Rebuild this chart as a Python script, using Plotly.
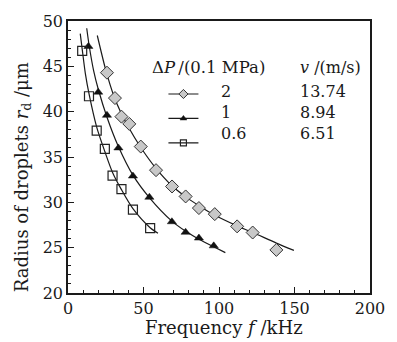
import plotly.graph_objects as go

# ---- data ----
# Delta P = 2 (x0.1 MPa), v = 13.74 m/s  (diamonds)
f_2 = [25.8, 31.1, 35.4, 40.6, 48.2, 58.3, 68.9, 77.9, 86.7, 97.2, 112.0, 122.3, 138.0]
r_2 = [44.3, 41.5, 39.45, 38.65, 36.15, 33.55, 31.75, 30.65, 29.37, 28.7, 27.35, 26.67, 24.75]
# Delta P = 1, v = 8.94 m/s (triangles)
f_1 = [13.5, 20.0, 25.8, 33.4, 43.0, 53.9, 68.8, 77.9, 86.7, 96.5]
r_1 = [47.2, 42.15, 39.6, 36.0, 32.9, 30.56, 27.86, 26.7, 26.06, 25.2]
# Delta P = 0.6, v = 6.51 m/s (squares)
f_06 = [9.4, 13.9, 19.0, 24.4, 29.5, 35.4, 43.0, 54.4]
r_06 = [46.7, 41.7, 37.9, 35.9, 32.95, 31.45, 29.2, 27.15]

# fitted curves
fit_f_2 = [19.4, 25.0, 30.0, 35.0, 40.0, 48.0, 58.0, 69.0, 78.0, 87.0, 97.0, 112.0, 122.0, 138.0, 149.6]
fit_r_2 = [48.4, 44.6, 41.9, 39.9, 38.3, 36.1, 33.8, 31.8, 30.6, 29.6, 28.6, 27.4, 26.7, 25.5, 24.7]
fit_f_1 = [12.4, 14.0, 17.0, 20.0, 26.0, 33.0, 43.0, 54.0, 69.0, 78.0, 87.0, 96.5, 104.2]
fit_r_1 = [49.2, 47.3, 44.5, 42.5, 39.3, 36.3, 33.0, 30.5, 27.9, 26.8, 25.9, 25.1, 24.45]
fit_f_06 = [8.1, 9.4, 11.5, 14.0, 19.0, 24.4, 29.5, 35.4, 43.0, 54.4, 59.6]
fit_r_06 = [48.6, 46.9, 44.2, 41.9, 38.3, 35.6, 33.3, 31.4, 29.3, 27.2, 26.6]

dp_labels = ["2", "1", "0.6"]
v_labels = ["13.74", "8.94", "6.51"]

FONT = "DejaVu Serif"
ink = "#1a1a1a"

fig = go.Figure()

series = [
    (f_2, r_2, fit_f_2, fit_r_2, dict(symbol="diamond", size=10, color="#c8c8c8", line=dict(color="#333", width=1))),
    (f_1, r_1, fit_f_1, fit_r_1, dict(symbol="triangle-up", size=8, color="#111", line=dict(color="#111", width=0.5))),
    (f_06, r_06, fit_f_06, fit_r_06, dict(symbol="square-open", size=9, color="#222", line=dict(color="#222", width=1.2))),
]
for fx, ry, cx, cy, mk in series:
    fig.add_trace(go.Scatter(x=cx, y=cy, mode="lines", line=dict(color=ink, width=1.2, shape="spline", smoothing=0.8),
                             showlegend=False, hoverinfo="skip"))
    fig.add_trace(go.Scatter(x=fx, y=ry, mode="markers", marker=mk, showlegend=False))

# legend keys
for lab, (_, _, _, _, mk) in zip(dp_labels, series):
    lk = dict(mk)
    lk["size"] = max(mk["size"] - 3, 6)
    fig.add_trace(go.Scatter(x=[None], y=[None], mode="lines+markers", marker=lk,
                             line=dict(color=ink, width=1.2), name="\u00a0", showlegend=True))

ann = []
LF = dict(family=FONT, size=16, color=ink)
ann.append(dict(x=54.6, y=44.92, xref="x", yref="y", xanchor="left", yanchor="middle", showarrow=False,
                text="Δ<i>P</i>\u2009/(0.1\u00a0MPa)", font=dict(family=FONT, size=16.5, color=ink)))
ann.append(dict(x=152.3, y=44.92, xref="x", yref="y", xanchor="left", yanchor="middle", showarrow=False,
                text="<i>v</i> /(m/s)", font=LF))
rows_y = [42.22, 39.9, 37.58]
for lab, vl, yy in zip(dp_labels, v_labels, rows_y):
    ann.append(dict(x=99.9, y=yy, xref="x", yref="y", xanchor="left", yanchor="middle", showarrow=False,
                    text=lab, font=LF))
    ann.append(dict(x=152.3, y=yy, xref="x", yref="y", xanchor="left", yanchor="middle", showarrow=False,
                    text=vl, font=LF))
# axis titles
TF = dict(family=FONT, size=18, color=ink)
ann.append(dict(x=(226 - 68) / 305, y=-(328 - 292.7) / 277.7, xref="paper", yref="paper",
                xanchor="center", yanchor="middle", showarrow=False,
                text="Frequency <i>f</i> /kHz", font=TF))
ann.append(dict(x=-(68 - 22) / 305, y=(292.7 - 174) / 277.7, xref="paper", yref="paper",
                xanchor="center", yanchor="middle", showarrow=False, textangle=-90,
                text="Radius of droplets <i>r</i><sub>d</sub> /μm", font=TF))

axis_common = dict(showgrid=False, zeroline=False, showline=True, linecolor=ink, linewidth=1.6,
                   mirror=True, ticks="inside", tickcolor=ink, tickwidth=1.2, ticklen=6,
                   tickfont=dict(family=FONT, size=16, color=ink))

fig.update_layout(
    width=397, height=342, autosize=False,
    margin=dict(l=68, r=24, t=15, b=49),
    paper_bgcolor="white", plot_bgcolor="white",
    font=dict(family=FONT, color=ink),
    annotations=ann,
    legend=dict(x=0.316, y=0.795, xanchor="left", yanchor="top", bgcolor="rgba(0,0,0,0)",
                borderwidth=0, font=dict(family=FONT, size=16.5), tracegroupgap=0),
    xaxis=dict(range=[0, 200], dtick=50, tick0=0,
               minor=dict(dtick=10, ticks="inside", ticklen=3, tickcolor=ink, tickwidth=1),
               **axis_common),
    yaxis=dict(range=[20, 50], dtick=5, tick0=20,
               minor=dict(dtick=1, ticks="inside", ticklen=3, tickcolor=ink, tickwidth=1),
               **axis_common),
)

fig.write_html("out.html", config={"displayModeBar": False},
               post_script="document.body.style.margin='0';document.body.style.overflow='hidden';")
